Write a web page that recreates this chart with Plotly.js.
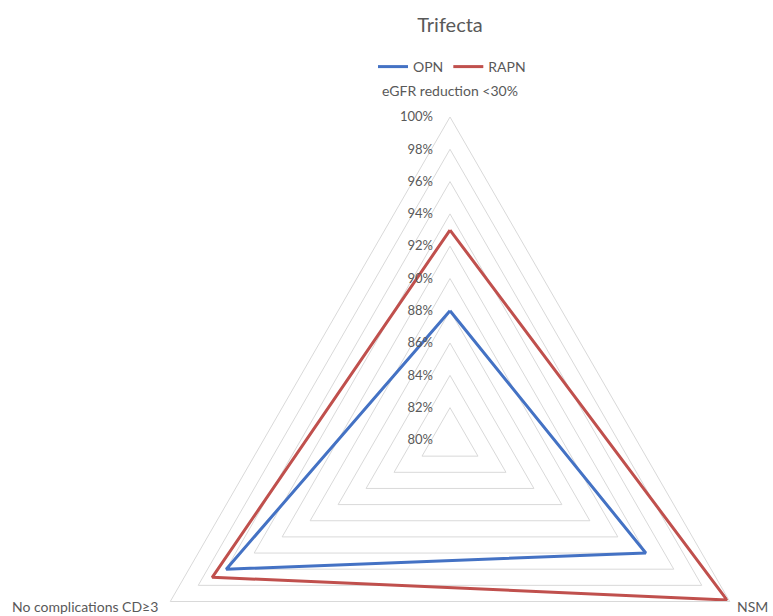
<!DOCTYPE html>
<html>
<head>
<meta charset="utf-8">
<script src="https://cdn.plot.ly/plotly-3.0.1.min.js"></script>
<style>
html, body { margin: 0; padding: 0; overflow: hidden; background: #ffffff; }
#chart { width: 773px; height: 780px; }
</style>
</head>
<body>
<div id="chart"></div>
<script>
// Data
var categories = ['eGFR reduction <30%', 'NSM', 'No complications CD≥3'];
var opnValues = [88, 94, 96];
var rapnValues = [93, 99.8, 97];
var radialTicks = [80, 82, 84, 86, 88, 90, 92, 94, 96, 98, 100];
var radialTickText = ['80%', '82%', '84%', '86%', '88%', '90%', '92%', '94%', '96%', '98%', '100%'];

function closeLoop(arr) { return arr.concat([arr[0]]); }

var W = 773, H = 780;
var cx = 450, cy = 440, R = 323;

var traces = [
  {
    type: 'scatterpolar',
    name: 'OPN',
    theta: closeLoop(categories),
    r: closeLoop(opnValues),
    mode: 'lines',
    line: { color: '#4472C4', width: 3 },
    hoverinfo: 'skip'
  },
  {
    type: 'scatterpolar',
    name: 'RAPN',
    theta: closeLoop(categories),
    r: closeLoop(rapnValues),
    mode: 'lines',
    line: { color: '#C0504D', width: 3 },
    hoverinfo: 'skip'
  }
];

var labelFont = { size: 14, color: '#595959', family: 'Lato, "Open Sans", sans-serif' };

var layout = {
  width: W,
  height: H,
  margin: { l: 0, r: 0, t: 0, b: 0 },
  paper_bgcolor: '#ffffff',
  font: { family: 'Lato, "Open Sans", sans-serif', color: '#595959' },
  title: {
    text: 'Trifecta',
    font: { size: 20, color: '#595959', family: 'Lato, "Open Sans", sans-serif' },
    x: cx / W, xanchor: 'center',
    y: 1 - 25 / H, yanchor: 'middle',
    xref: 'paper', yref: 'paper'
  },
  showlegend: true,
  legend: {
    orientation: 'h',
    x: 452 / W, xanchor: 'center',
    y: 1 - 67 / H, yanchor: 'middle',
    font: { size: 14, color: '#595959' },
    bgcolor: 'rgba(0,0,0,0)'
  },
  annotations: [
    { text: categories[0], xref: 'paper', yref: 'paper', x: 450 / W, y: 1 - 90 / H,
      xanchor: 'center', yanchor: 'middle', showarrow: false, font: labelFont },
    { text: categories[1], xref: 'paper', yref: 'paper', x: 770 / W, y: 1 - 606 / H,
      xanchor: 'right', yanchor: 'middle', showarrow: false, font: labelFont },
    { text: categories[2], xref: 'paper', yref: 'paper', x: 160 / W, y: 1 - 606 / H,
      xanchor: 'right', yanchor: 'middle', showarrow: false, font: labelFont }
  ],
  polar: {
    domain: {
      x: [(cx - R) / W, (cx + R) / W],
      y: [1 - (cy + R) / H, 1 - (cy - R) / H]
    },
    bgcolor: '#ffffff',
    gridshape: 'linear',
    radialaxis: {
      range: [80, 100],
      tickmode: 'array',
      tickvals: radialTicks,
      ticktext: radialTickText,
      angle: 90,
      tickangle: 90,
      side: 'counterclockwise',
      showline: false,
      ticks: 'outside',
      ticklen: 12,
      tickcolor: 'rgba(0,0,0,0)',
      gridcolor: '#d9d9d9',
      gridwidth: 1,
      tickfont: { size: 13, color: '#595959' }
    },
    angularaxis: {
      type: 'category',
      categoryarray: categories,
      rotation: 90,
      direction: 'clockwise',
      showgrid: false,
      showline: true,
      showticklabels: false,
      linecolor: '#d9d9d9',
      linewidth: 1,
      ticks: ''
    }
  }
};

Plotly.newPlot('chart', traces, layout, { displayModeBar: false, staticPlot: true });
</script>
</body>
</html>
